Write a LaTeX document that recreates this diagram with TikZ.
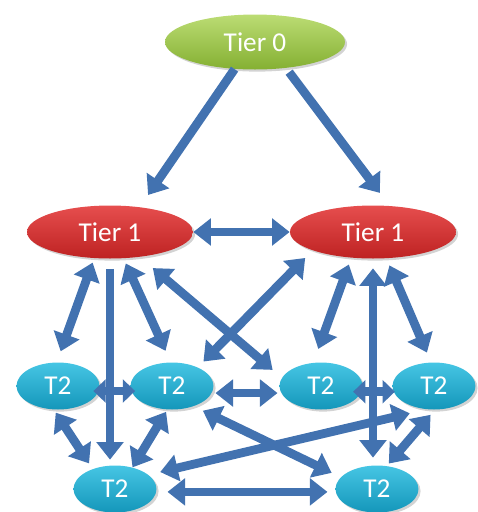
\documentclass[tikz,border=0pt]{standalone}
\usepackage{fontspec}
\setmainfont{Carlito}
\usepackage{tikz}
\usetikzlibrary{shapes.geometric, arrows.meta, shadows}

\definecolor{arrowblue}{RGB}{66,114,176}
\definecolor{greentop}{RGB}{188,220,116}
\definecolor{greenbot}{RGB}{132,176,50}
\definecolor{redtop}{RGB}{230,78,78}
\definecolor{redbot}{RGB}{190,34,34}
\definecolor{cyantop}{RGB}{70,198,228}
\definecolor{cyanbot}{RGB}{20,150,186}

\begin{document}
\begin{tikzpicture}[
    x=0.02cm, y=-0.02cm,
    tier/.style={ellipse, inner sep=0pt, text=white, font=\fontsize{15.5}{18}\selectfont, drop shadow={opacity=0.35, shadow xshift=1.2pt, shadow yshift=-1.2pt}},
    tierzero/.style={tier, minimum width=3.6cm, minimum height=1.1cm, top color=greentop, bottom color=greenbot},
    tierone/.style={tier, minimum width=3.32cm, minimum height=1.06cm, top color=redtop, bottom color=redbot},
    tiertwo/.style={tier, minimum width=1.66cm, minimum height=0.94cm, top color=cyantop, bottom color=cyanbot},
    link/.style={arrowblue, line width=5pt, -{Triangle[width=15pt, length=10pt]}},
    dlink/.style={link, {Triangle[width=15pt, length=10pt]}-{Triangle[width=15pt, length=10pt]}},
    shortlink/.style={link, {Triangle[width=13pt, length=7pt]}-{Triangle[width=13pt, length=7pt]}}
]
\useasboundingbox (0,0) rectangle (478,512);

\node [tierzero] (t0) at (255,42) {Tier 0};
\node [tierone] (t1l) at (110,232) {Tier 1};
\node [tierone] (t1r) at (373,232) {Tier 1};
\node [tiertwo] (t2a) at (58,386) {T2};
\node [tiertwo] (t2b) at (172,386) {T2};
\node [tiertwo] (t2c) at (321,386) {T2};
\node [tiertwo] (t2d) at (434,386) {T2};
\node [tiertwo] (t2e) at (115,489) {T2};
\node [tiertwo] (t2f) at (377,489) {T2};

\draw [link, shorten >=0.29cm] (t0.233) -- (t1l.40);
\draw [link, shorten <=0.1cm, shorten >=0.32cm] (t0.-40) -- (t1r.58);
\draw [dlink] (t1l.east) -- (t1r.west);
\draw [dlink, shorten <=0.09cm, shorten >=0.23cm] (t1l.239) -- (t2a.93);
\draw [link, shorten <=0.2cm, shorten >=0.11cm] (t1l.south) -- (t1l.south |- t2e.north);
\draw [dlink, shorten <=0.11cm, shorten >=0.25cm] (t1l.-63) -- (t2b.93);
\draw [dlink, shorten <=0.34cm, shorten >=0.24cm] (t1l.-40) -- (t2c.168);
\draw [dlink, shorten <=0.16cm, shorten >=0.21cm] (t2b.36) -- (t1r.197);
\draw [dlink, shorten <=0.14cm, shorten >=0.29cm] (t1r.-130) -- (t2c.108);
\draw [dlink, shorten <=0.19cm, shorten >=0.15cm] (t1r.south) -- (t1r.south |- t2f.north);
\draw [dlink, shorten <=0.15cm, shorten >=0.21cm] (t1r.-63) -- (t2d.97);
\draw [shortlink, shorten <=-0.11cm, shorten >=-0.08cm] (t2a.-7) -- (t2b.187);
\draw [dlink, shorten <=0.07cm, shorten >=0.07cm] (t2b.-10) -- (t2c.190);
\draw [shortlink, shorten <=-0.17cm, shorten >=-0.03cm] (t2c.-8) -- (t2d.188);
\draw [dlink, shorten <=0.07cm, shorten >=0.13cm] (t2a.-100) -- (t2e.138);
\draw [dlink, shorten <=0.05cm] (t2b.-101) -- (t2e.51);
\draw [dlink, shorten <=0.2cm, shorten >=0.2cm] (t2b.-43) -- (t2f.162);
\draw [dlink, shorten <=0.24cm, shorten >=0.34cm] (t2e.23) -- (t2d.-108);
\draw [dlink, shorten <=0.13cm, shorten >=0.06cm] (t2d.-88) -- (t2f.67);
\draw [dlink, shorten <=0.22cm, shorten >=0.16cm] (t2e.-4) -- (t2f.184);
\end{tikzpicture}
\end{document}
